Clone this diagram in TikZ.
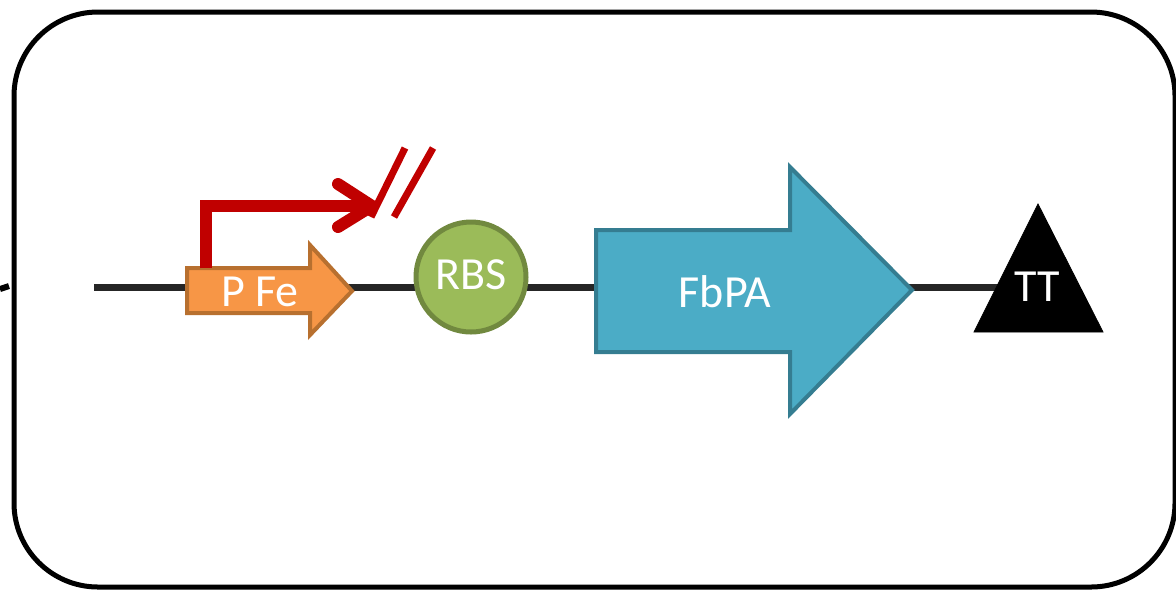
\documentclass[tikz,border=0pt]{standalone}
\usepackage{fontspec}
\setmainfont{Carlito}
\usetikzlibrary{calc}
\definecolor{promofill}{HTML}{F79646}
\definecolor{promoline}{HTML}{B8702F}
\definecolor{rbsfill}{HTML}{9BBB59}
\definecolor{rbsline}{HTML}{71893F}
\definecolor{genefill}{HTML}{4BACC6}
\definecolor{geneline}{HTML}{357D91}
\definecolor{tssred}{HTML}{C00000}
\definecolor{dnagrey}{HTML}{262626}
\tikzset{
  dna/.style={draw=dnagrey, line width=3.5pt},
  partlabel/.style={text=white, inner sep=0pt, font=\fontsize{23}{27}\selectfont},
  promoter/.style={draw=promoline, fill=promofill, line width=2pt, line join=miter},
  cds/.style={draw=geneline, fill=genefill, line width=2pt, line join=miter},
  rbs/.style={circle, draw=rbsline, fill=rbsfill, line width=2.5pt, minimum size=55pt},
  tss/.style={draw=tssred, line width=6pt},
}
\begin{document}
\begin{tikzpicture}[x=0.5pt,y=-0.5pt]
  \useasboundingbox (0,0) rectangle (1176,591);
  \draw[line width=2.5pt, rounded corners=42pt] (14,12) rectangle (1175,587);
  \draw[line width=3pt] (0,289) -- (9,286);

  \coordinate (dnastart) at (94,287);
  \coordinate (dnaend) at (1005,287);
  \draw[dna] (dnastart) -- (dnaend);

  \draw[promoter] (187,268) -- (310,268) -- (310,245) -- (352,291)
    -- (310,335) -- (310,313) -- (187,313) -- cycle;
  \node[partlabel] (pfe) at (260,292) {P Fe};

  \coordinate (tss) at (206,268);
  \coordinate (tssend) at (372,206);
  \draw[tss, line join=miter] (tss) -- (tss |- tssend) -- (tssend);
  \draw[tss, line cap=round, line join=round] (338,184) -- (tssend) -- (338,227);
  \begin{scope}[draw=tssred, line width=3.5pt]
    \draw (371,217) -- (405,148);
    \draw (394,217) -- (433,148);
  \end{scope}

  \node[rbs] (rbs) at (471,277) {};
  \node[partlabel] (rbstext) at (471,275) {RBS};

  \draw[cds] (596,230) -- (790,230) -- (790,167) -- (912,290)
    -- (790,414) -- (790,352) -- (596,352) -- cycle;
  \node[partlabel] (fbpa) at (725,292) {FbPA};

  \draw[fill=black, line join=miter] (1038,204) -- (1103,332) -- (974,332) -- cycle;
  \node[partlabel] (tt) at (1037,287) {TT};
\end{tikzpicture}
\end{document}
